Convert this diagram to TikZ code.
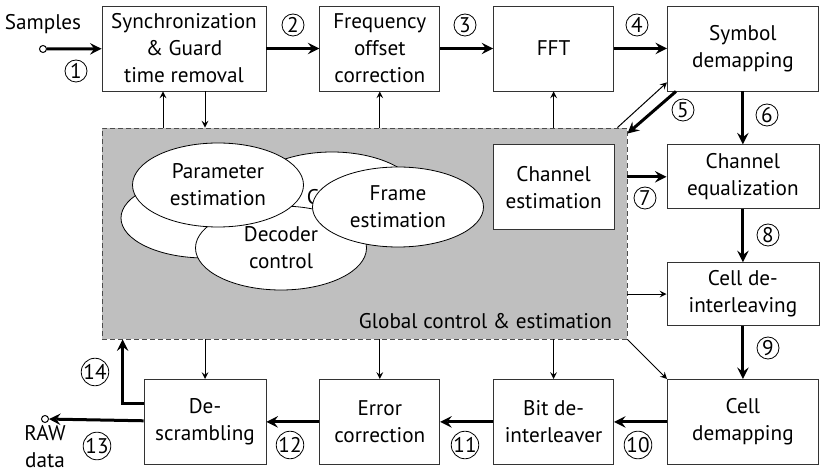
\documentclass[tikz,border=0pt]{standalone}
\usepackage{fontspec}
\setmainfont{PT Sans}
\usepackage{tikz}
\usetikzlibrary{shapes.geometric, arrows, positioning}
\tikzstyle{block} = [rectangle, draw=black!80, fill=white, align=center, minimum height=42.5pt, inner sep=2pt]
\tikzstyle{arrow} = [line width=1.5pt,->,>=stealth]
\tikzstyle{thinarrow} = [line width=0.5pt,->,>=stealth]
\tikzstyle{num} = [circle, draw, inner sep=0pt, minimum size=11pt]
\tikzstyle{estim} = [ellipse, draw, fill=white, align=center, minimum width=85.5pt, minimum height=42pt, inner sep=1pt]
\tikzstyle{terminal} = [circle, draw, fill=white, inner sep=0pt, minimum size=3.5pt, line width=0.5pt]
\tikzstyle{globalbox} = [rectangle, draw=black!70, dash pattern=on 2.5pt off 1.5pt, fill=gray!50, minimum width=262.5pt, minimum height=105.5pt]

\begin{document}
\begin{tikzpicture}[x=0.5pt, y=-0.5pt, node distance=26.5pt, font=\fontsize{10.6}{13.5}\selectfont]
\useasboundingbox (0,0) rectangle (820,475);

% Processing chain
\node (sync) [block, minimum width=82pt] at (184,48.5) {Synchronization\\\& Guard\\time removal};
\node (freq) [block, minimum width=60pt, right=of sync] {Frequency\\offset\\correction};
\node (fft) [block, minimum width=60pt, right=of freq] {FFT};
\node (symbol) [block, minimum width=75.5pt, right=of fft] {Symbol\\demapping};
\node (chaneq) [block, minimum width=76pt, minimum height=32pt, below=of symbol] {Channel\\equalization};
\node (celldeint) [block, minimum width=76pt, minimum height=31.5pt, below=of chaneq] {Cell de-\\interleaving};
\node (celldemap) [block, minimum width=75.5pt, below=of celldeint] {Cell\\demapping};
\node (bitdeint) [block, minimum width=60pt, left=of celldemap] {Bit de-\\interleaver};
\node (errcorr) [block, minimum width=60pt, left=of bitdeint] {Error\\correction};
\node (descr) [block, minimum width=61pt, left=of errcorr] {De-\\scrambling};

% Global control block
\node (global) [globalbox] at (364.5,233.5) {};
\node (globaltext) [anchor=base east, inner sep=0pt] at ([xshift=-7.5pt,yshift=5.5pt]global.south east) {Global control \& estimation};
\node (chanest) [block, minimum width=60.5pt, below=of fft] {Channel\\estimation};
\node (backest) [estim, minimum width=84pt, minimum height=40pt] at (205,218) {};
\node (hiddenest) [estim, minimum width=90pt, minimum height=48pt] at (332,200) {};
\node (hiddentext) at (313,197) {C};
\node (decoder) [estim] at (281,248) {Decoder\\control};
\node (param) [estim] at (218,185) {Parameter\\estimation};
\node (frame) [estim, minimum height=40pt] at (398,207) {Frame\\estimation};

% Terminals
\node (samplesin) [terminal] at (43,49) {};
\node (samples) [above=2pt of samplesin] {Samples};
\node (rawout) [terminal] at (45,419) {};
\node (rawdata) [below=0pt of rawout, align=center, inner sep=1pt] {RAW\\data};

% Data path
\draw[arrow] (samplesin) -- (sync);
\draw[arrow] (sync) -- (freq);
\draw[arrow] (freq) -- (fft);
\draw[arrow] (fft) -- (symbol);
\draw[arrow] ([xshift=4.5pt]symbol.south west) -- ([yshift=-3pt]global.north east);
\draw[arrow] (symbol) -- (chaneq);
\draw[arrow] (chaneq.west -| global.east) -- (chaneq.west);
\draw[arrow] (chaneq) -- (celldeint);
\draw[arrow] (celldeint) -- (celldemap);
\draw[arrow] (celldemap) -- (bitdeint);
\draw[arrow] (bitdeint) -- (errcorr);
\draw[arrow] (errcorr) -- (descr);
\draw[arrow] (descr) -- (rawout);
\draw[arrow] ([yshift=9.25pt]descr.west) -| ([xshift=10.5pt]global.south west);

% Control lines
\draw[thinarrow] ([xshift=-10.5pt]sync.south |- global.north) -- ([xshift=-10.5pt]sync.south);
\draw[thinarrow] ([xshift=10.5pt]sync.south) -- ([xshift=10.5pt]sync.south |- global.north);
\draw[thinarrow] (freq.south |- global.north) -- (freq.south);
\draw[thinarrow] (fft.south |- global.north) -- (fft.south);
\draw[thinarrow] ([xshift=-5pt]global.north east) -- ([yshift=4.5pt]symbol.south west);
\draw[thinarrow] (celldeint.west -| global.east) -- (celldeint.west);
\draw[thinarrow] (global.south east) -- (celldemap.north west);
\draw[thinarrow] (bitdeint.north |- global.south) -- (bitdeint.north);
\draw[thinarrow] (errcorr.north |- global.south) -- (errcorr.north);
\draw[thinarrow] (descr.north |- global.south) -- (descr.north);

% Step numbers
\node (n1) [num] at (76,71) {1};
\node (n2) [num] at (293,25) {2};
\node (n3) [num] at (465,25) {3};
\node (n4) [num] at (637,25) {4};
\node (n5) [num] at (683,110) {5};
\node (n6) [num] at (767,115) {6};
\node (n7) [num] at (645,198) {7};
\node (n8) [num] at (768,235) {8};
\node (n9) [num] at (768,348) {9};
\node (n10) [num] at (638,445) {10};
\node (n11) [num] at (465,445) {11};
\node (n12) [num] at (290,445) {12};
\node (n13) [num] at (97,446) {13};
\node (n14) [num] at (95,372) {14};

\end{tikzpicture}
\end{document}
